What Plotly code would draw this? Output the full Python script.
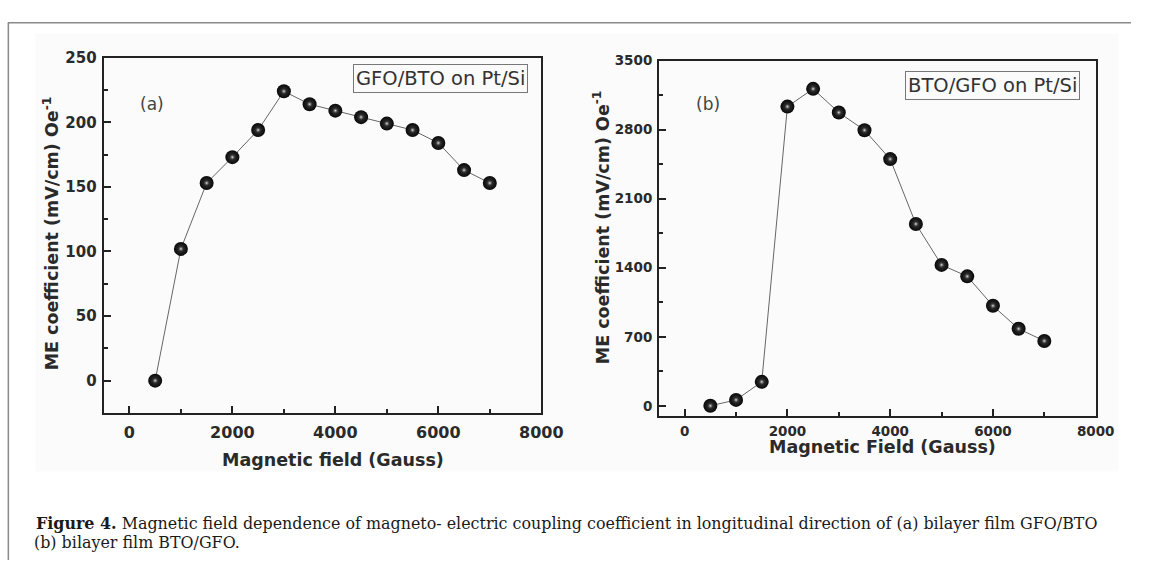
import plotly.graph_objects as go

# ---- data ----
field = [500, 1000, 1500, 2000, 2500, 3000, 3500, 4000, 4500, 5000, 5500, 6000, 6500, 7000]
me_gfo_bto = [0, 102, 153, 173, 194, 224, 214, 209, 204, 199, 194, 184, 163, 153]
me_bto_gfo = [0, 60, 243, 3034, 3214, 2974, 2795, 2502, 1844, 1429, 1313, 1014, 781, 658]

W, H = 1153, 562
AX = "#222222"
TXT = "#2a2a2a"
SANS = "DejaVu Sans"


def px(x):
    return x / W


def py(y):
    return 1 - y / H


fig = go.Figure()

# dark sphere: black body plus a soft radial highlight (gradient.color = centre colour)
ball = dict(size=14, color="#080808", gradient=dict(type="radial", color="#3a3a3a"),
            line=dict(width=0))
shine = dict(size=7, color="rgba(10,10,10,0)", gradient=dict(type="radial", color="#e6e6e6"),
             line=dict(width=0))
for xs, ys, xa_, ya_ in [(field, me_gfo_bto, "x", "y"), (field, me_bto_gfo, "x2", "y2")]:
    fig.add_trace(go.Scatter(x=xs, y=ys, mode="lines+markers",
                             line=dict(color="#666666", width=1), marker=ball,
                             xaxis=xa_, yaxis=ya_, showlegend=False, hoverinfo="skip"))
    fig.add_trace(go.Scatter(x=xs, y=ys, mode="markers", marker=shine,
                             xaxis=xa_, yaxis=ya_, showlegend=False))


def axis_common(dtick, minor_dtick, rng, size):
    return dict(range=rng, dtick=dtick, tick0=0, showgrid=False, zeroline=False,
                showline=True, linecolor=AX, linewidth=2, mirror=True,
                ticks="inside", ticklen=7, tickwidth=1.5, tickcolor=AX,
                minor=dict(dtick=minor_dtick, ticks="inside", ticklen=4,
                           tickwidth=1.5, tickcolor=AX, showgrid=False),
                tickfont=dict(family=SANS, size=size, color=TXT, weight="bold"))


xa = axis_common(2000, 1000, [-500, 8000], 16)
xa.update(domain=[px(105.7), px(551.8)], anchor="y", ticklabelstandoff=4)
ya = axis_common(50, 25, [-25, 250], 15)
ya.update(domain=[py(410.5), py(49.5)], anchor="x", ticklabelstandoff=2)

xb = axis_common(2000, 1000, [-500, 8000], 13.5)
xb.update(domain=[px(671.8), px(1117)], anchor="y2", ticklabelstandoff=2)
yb = axis_common(700, 350, [-100, 3500], 13.5)
yb.update(domain=[py(413.3), py(52.5)], anchor="x2", ticklabelstandoff=2)

annotations = [
    dict(x=px(339), y=py(458), text="Magnetic field (Gauss)"),
    dict(x=px(900), y=py(445), text="Magnetic Field (Gauss)"),
    dict(x=px(52), y=py(228), text="ME coefficient (mV/cm) Oe<sup>-1</sup>", textangle=-90),
    dict(x=px(613.5), y=py(222), text="ME coefficient (mV/cm) Oe<sup>-1</sup>", textangle=-90),
]
for a in annotations:
    a.update(xref="paper", yref="paper", showarrow=False, xanchor="center", yanchor="middle",
             font=dict(family=SANS, size=17.5, color=TXT, weight="bold"))

panel_labels = [
    dict(x=px(155), y=py(97), text="(a)"),
    dict(x=px(722), y=py(97), text="(b)"),
]
for a in panel_labels:
    a.update(xref="paper", yref="paper", showarrow=False, xanchor="center", yanchor="middle",
             font=dict(family=SANS, size=17, color="#444444"))

boxes = [
    dict(x=px(449.5), y=py(70.3), text="GFO/BTO on Pt/Si"),
    dict(x=px(1011.5), y=py(78), text="BTO/GFO on Pt/Si"),
]
for a in boxes:
    a.update(xref="paper", yref="paper", showarrow=False, xanchor="center", yanchor="middle",
             bordercolor="#777777", borderwidth=1, borderpad=2,
             font=dict(family=SANS, size=19.5, color="#333333"))

caption = [
    dict(x=px(35), y=py(523),
         text="<b>Figure 4.</b> Magnetic field dependence of magneto- electric coupling coefficient "
              "in longitudinal direction of (a) bilayer film GFO/BTO"),
    dict(x=px(33), y=py(542), text="(b) bilayer film BTO/GFO."),
]
for a in caption:
    a.update(xref="paper", yref="paper", showarrow=False, xanchor="left", yanchor="middle",
             font=dict(family="DejaVu Serif", size=15.9, color="#1a1a1a"))

shapes = [
    dict(type="rect", xref="paper", yref="paper", x0=px(36), x1=px(1140), y0=py(470), y1=py(25),
         fillcolor="#fbfbfb", line=dict(width=0), layer="below"),
    dict(type="line", xref="paper", yref="paper", x0=px(8), x1=1, y0=py(14), y1=py(14),
         line=dict(color="#8a8a8a", width=1.5)),
    dict(type="line", xref="paper", yref="paper", x0=px(8.5), x1=px(8.5), y0=py(14), y1=py(560),
         line=dict(color="#8a8a8a", width=1.5)),
]

fig.update_layout(width=W, height=H, margin=dict(l=0, r=0, t=0, b=0),
                  paper_bgcolor="white", plot_bgcolor="rgba(0,0,0,0)",
                  xaxis=xa, yaxis=ya, xaxis2=xb, yaxis2=yb,
                  annotations=annotations + panel_labels + boxes + caption,
                  shapes=shapes)

fig.write_html("out.html")
